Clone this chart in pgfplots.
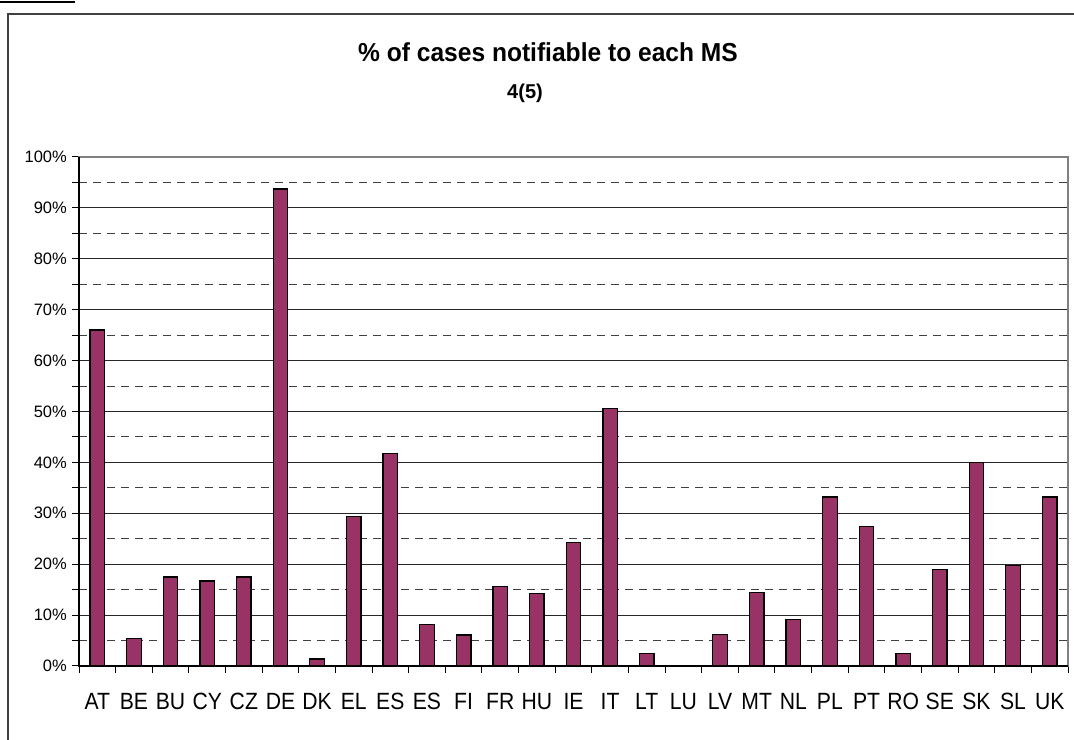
\documentclass[border=0pt]{standalone}
\usepackage{fontspec}
\setmainfont{Liberation Sans}
\usepackage{pgfplots}
\pgfplotsset{compat=1.18}
\definecolor{barc}{HTML}{993366}
\begin{document}
\begin{tikzpicture}
\path[use as bounding box] (0,0) rectangle (1074bp,740bp);
\draw[line width=1.6bp, black!75] (8bp,-5bp) -- (8bp,726bp) -- (1080bp,726bp);
\draw[line width=1.6bp] (0,738bp) -- (75bp,738bp);
\node[font=\bfseries\fontsize{26bp}{29bp}\selectfont, anchor=base, inner sep=0pt, xscale=0.945] at (548bp,678bp) {\% of cases notifiable to each MS};
\node[font=\bfseries\fontsize{20bp}{23bp}\selectfont, anchor=base, inner sep=0pt] at (525bp,641bp) {4(5)};
\begin{axis}[
  at={(79bp,74bp)}, anchor=south west,
  scale only axis, width=989bp, height=509bp,
  xmin=-0.5, xmax=26.5, ymin=0, ymax=100,
  ybar, bar width=14.5bp,
  xtick={0,...,26},
  xticklabels={AT,BE,BU,CY,CZ,DE,DK,EL,ES,ES,FI,FR,HU,IE,IT,LT,LU,LV,MT,NL,PL,PT,RO,SE,SK,SL,UK},
  minor xtick={-0.5,0.5,...,26.5},
  ytick={0,10,...,100},
  minor ytick={5,15,...,95},
  tick align=outside, tick pos=left,
  major x tick style={draw=none},
  every tick/.style={black, line width=1bp},
  minor tick length=7bp, major tick length=7bp,
  ymajorgrids, yminorgrids,
  major grid style={black!85, line width=0.9bp},
  minor grid style={black!75, line width=0.9bp, dash pattern=on 8bp off 6bp},
  axis line style={black!50, line width=1.2bp},
  /pgf/number format/assume math mode=true,
  yticklabel={\pgfmathprintnumber{\tick}\%},
  yticklabel style={font=\fontsize{16.5bp}{18bp}\selectfont, anchor=east, inner sep=0pt, xshift=-5bp},
  xticklabel style={font=\fontsize{23.5bp}{26bp}\selectfont, anchor=base, inner sep=0pt, yshift=-36bp, xscale=0.9},
  clip=false,
]
\addplot[fill=barc, draw=black, line width=1.3bp] coordinates {
(0,66.0) (1,5.4) (2,17.5) (3,16.7) (4,17.5) (5,93.7) (6,1.4) (7,29.4) (8,41.7) (9,8.2)
(10,6.1) (11,15.6) (12,14.3) (13,24.3) (14,50.6) (15,2.4) (16,0) (17,6.2) (18,14.4) (19,9.2)
(20,33.2) (21,27.4) (22,2.4) (23,18.9) (24,40.0) (25,19.8) (26,33.2)};
\draw[black, line width=1.5bp] (rel axis cs:0,1) -- (rel axis cs:0,0) -- (rel axis cs:1,0);
\end{axis}
\end{tikzpicture}
\end{document}
